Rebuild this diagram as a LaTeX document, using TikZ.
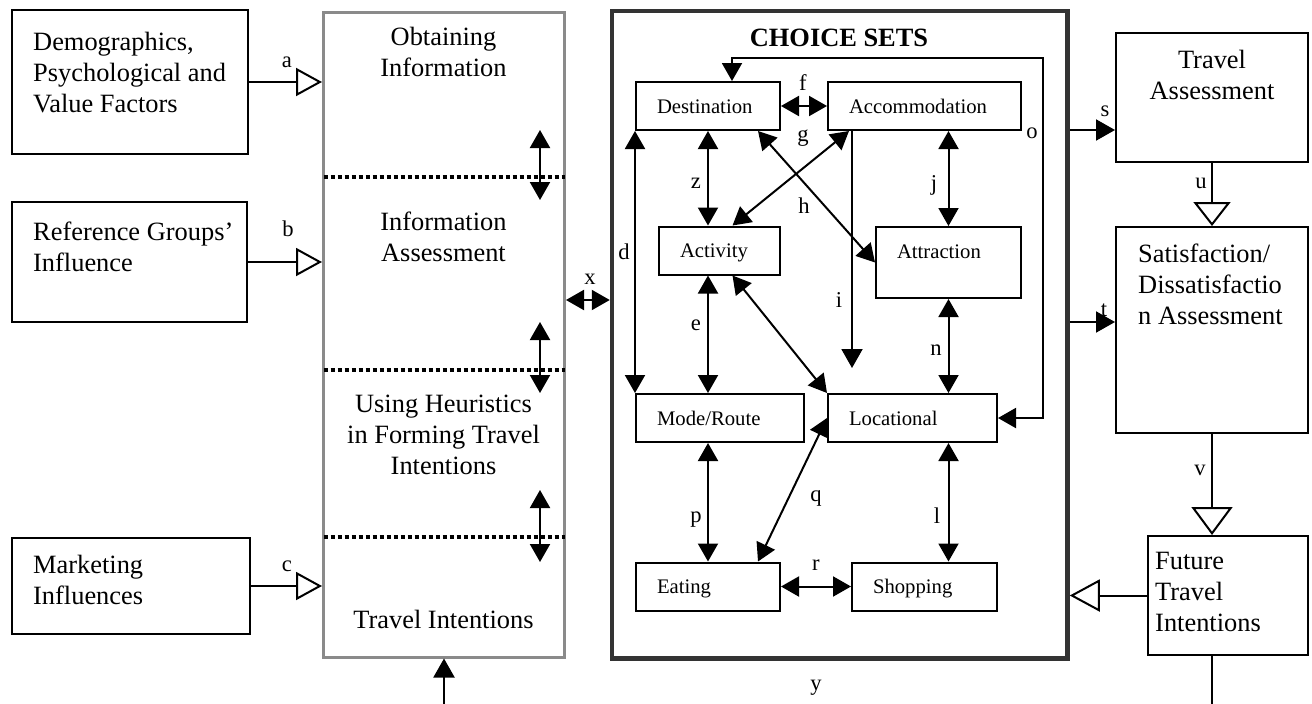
\documentclass[tikz,border=0pt]{standalone}
\usepackage{fontspec}
\setmainfont{Liberation Serif}
\usetikzlibrary{arrows.meta,calc}

\definecolor{procgray}{HTML}{8A8A8A}
\definecolor{setdark}{HTML}{333333}

\tikzset{
  big/.style={font=\fontsize{26.4}{31}\selectfont, inner sep=0pt},
  lbl/.style={font=\fontsize{22.6}{26}\selectfont, inner sep=0pt},
  box/.style={draw, line width=2pt, inner sep=0pt},
  cbox/.style={draw, line width=2pt, font=\fontsize{20.7}{24}\selectfont,
    align=left, inner xsep=21pt, inner ysep=16.75pt,
    text height=14.5pt, text depth=0pt},
  con/.style={line width=2pt},
  both/.style={con, {Triangle[length=18pt,width=20pt]}-{Triangle[length=18pt,width=20pt]}},
  one/.style={con, -{Triangle[length=19pt,width=21pt]}},
  hollow/.style={con, -{Triangle[open,length=26pt,width=28pt]}},
  dots/.style={line width=3.5pt, dash pattern=on 4pt off 3pt},
}

\begin{document}
\begin{tikzpicture}[x=1pt,y=-1pt]
\useasboundingbox (0,0) rectangle (1312,704);

% ---------- influences on the left ----------
\node[box, minimum width=236pt, minimum height=144pt] (demo) at (130,82) {};
\node[big, anchor=north west, align=left] (demotxt) at (33,32)
  {Demographics,\\Psychological and\\Value Factors};
\node[box, minimum width=235pt, minimum height=120pt] (ref) at (129.5,262) {};
\node[big, anchor=north west, align=left] (reftxt) at (33,222)
  {Reference Groups’\\Influence};
\node[box, minimum width=238pt, minimum height=96pt] (mkt) at (131,586) {};
\node[big, anchor=north west, align=left] (mkttxt) at (33,555)
  {Marketing\\Influences};

% ---------- decision process column ----------
\node[draw=procgray, line width=3pt, minimum width=241pt, minimum height=645pt, inner sep=0pt]
  (proc) at (444,334.5) {};
\node[big, anchor=north, align=center] (p1) at (443.5,27) {Obtaining\\Information};
\node[big, anchor=north, align=center] (p2) at (443.5,212) {Information\\Assessment};
\node[big, anchor=north, align=center] (p3) at (443.5,395) {Using Heuristics\\in Forming Travel\\Intentions};
\node[big, anchor=north, align=center] (p4) at (443.5,610) {Travel Intentions};

\coordinate (d1l) at (323.5,177); \coordinate (d1r) at (564.5,177);
\coordinate (d2l) at (323.5,370); \coordinate (d2r) at (564.5,370);
\coordinate (d3l) at (323.5,537); \coordinate (d3r) at (564.5,537);
\draw[dots] (d1l) -- (d1r);
\draw[dots] (d2l) -- (d2r);
\draw[dots] (d3l) -- (d3r);

\coordinate (s1a) at (540,130); \coordinate (s1b) at (540,200);
\coordinate (s2a) at (540,322); \coordinate (s2b) at (540,393);
\coordinate (s3a) at (540,490); \coordinate (s3b) at (540,562);
\draw[both] (s1a) -- (s1b);
\draw[both] (s2a) -- (s2b);
\draw[both] (s3a) -- (s3b);

\draw[hollow] (demo.east) -- (demo.east -| proc.west);
\draw[hollow] (ref.east) -- (ref.east -| proc.west);
\draw[hollow] (mkt.east) -- (mkt.east -| proc.west);
\node[lbl] (la) at (287,62) {a};
\node[lbl] (lb) at (288,229) {b};
\node[lbl] (lc) at (287,566) {c};

\coordinate (pin) at (444,704);
\draw[one] (pin) -- (proc.south -| pin);

% ---------- choice sets ----------
\node[draw=setdark, line width=4.5pt, minimum width=455.5pt, minimum height=647.5pt, inner sep=0pt]
  (choice) at (839.75,334.75) {};
\node[font=\bfseries\fontsize{26.4}{30}\selectfont, inner sep=0pt] (ctitle) at (839,38) {CHOICE SETS};

\node[cbox, text width=102pt] (dest) at (708,106) {Destination};
\node[cbox, text width=151pt] (acc) at (924.5,106) {Accommodation};
\node[cbox, text width=79pt] (act) at (719.5,250.5) {Activity};
\node[cbox, text width=103pt, text depth=23pt] (attr) at (948.5,262.5) {Attraction};
\node[cbox, text width=126pt] (mode) at (720,418) {Mode/Route};
\node[cbox, text width=127pt] (loc) at (912.5,418) {Locational};
\node[cbox, text width=102pt] (eat) at (708,586.5) {Eating};
\node[cbox, text width=103pt] (shop) at (924.5,586.5) {Shopping};

\coordinate (xy) at (0,300);
\draw[both] (proc.east |- xy) -- (choice.west |- xy);
\node[lbl] (lx) at (590,279) {x};

\draw[both] (dest.east) -- (acc.west);
\draw[both] (dest.south) -- (dest.south |- act.north);
\draw[both] (dest.south west) -- (dest.south west |- mode.north);
\draw[both] ($(dest.south east)+(-23,0)$) -- (attr.west);
\draw[both] ($(acc.south west)+(22,0)$) -- ($(act.north)+(13,0)$);
\coordinate (iend) at (852,368);
\draw[one] (iend |- acc.south) -- (iend);
\draw[both] (acc.south -| attr.north) -- (attr.north);
\draw[both] (act.south -| dest.south) -- (mode.north -| dest.south);
\draw[both] ($(act.south)+(13,0)$) -- (loc.north west);
\draw[both] (attr.south) -- (loc.north -| attr.south);
\coordinate (oc) at (1043,58);
\draw[both] (loc.east) -| (oc) -| ($(dest.north)+(24,0)$);
\draw[both] (loc.west) -- ($(eat.north east)+(-23,0)$);
\draw[both] (mode.south -| eat.north) -- (eat.north);
\draw[both] (loc.south -| attr.south) -- (shop.north -| attr.south);
\draw[both] (eat.east) -- (shop.west);

\node[lbl] (ld) at (624,252) {d};
\node[lbl] (lf) at (803,83) {f};
\node[lbl] (lg) at (803,138) {g};
\node[lbl] (lz) at (696,183) {z};
\node[lbl] (lh) at (804,206) {h};
\node[lbl] (lj) at (934,185) {j};
\node[lbl] (li) at (839,300) {i};
\node[lbl] (le) at (696,325) {e};
\node[lbl] (ln) at (936,350) {n};
\node[lbl] (lq) at (816,498) {q};
\node[lbl] (lp) at (696,520) {p};
\node[lbl] (ll) at (937,516) {l};
\node[lbl] (lr) at (816,565) {r};
\node[lbl] (lo) at (1032,133) {o};
\node[lbl] (ly) at (816,688) {y};

% ---------- outcomes on the right ----------
\node[box, minimum width=192pt, minimum height=129pt] (ta) at (1212,97.5) {};
\node[big, anchor=north, align=center] (tatxt) at (1212,50) {Travel\\Assessment};
\node[box, minimum width=192pt, minimum height=206pt] (sat) at (1212,330) {};
\node[big, anchor=north west, align=left] (sattxt) at (1138,244)
  {Satisfaction/\\Dissatisfactio\\n Assessment};
\node[box, minimum width=160pt, minimum height=119pt] (fut) at (1228,595.5) {};
\node[big, anchor=north west, align=left] (futtxt) at (1155,552)
  {Future\\Travel\\Intentions};

\coordinate (sy) at (0,130);
\coordinate (ty) at (0,322);
\draw[one] (choice.east |- sy) -- (ta.west |- sy);
\draw[one] (choice.east |- ty) -- (sat.west |- ty);
\node[lbl] (ls) at (1105,111) {s};
\node[lbl] (lt) at (1104,310) {t};

\draw[line width=2.5pt, -{Triangle[open,length=24pt,width=37pt,line width=2pt]}] (ta.south) -- (sat.north);
\draw[line width=2.5pt, -{Triangle[open,length=28pt,width=41pt,line width=2pt]}] (sat.south) -- (fut.north -| sat.south);
\node[lbl] (lu) at (1201,183) {u};
\node[lbl] (lv) at (1200,470) {v};

\draw[con, -{Triangle[open,length=30pt,width=32pt]}] (fut.west) -- (fut.west -| choice.east);
\coordinate (fout) at (1212,704);
\draw[con] (fut.south -| fout) -- (fout);

\end{tikzpicture}
\end{document}
